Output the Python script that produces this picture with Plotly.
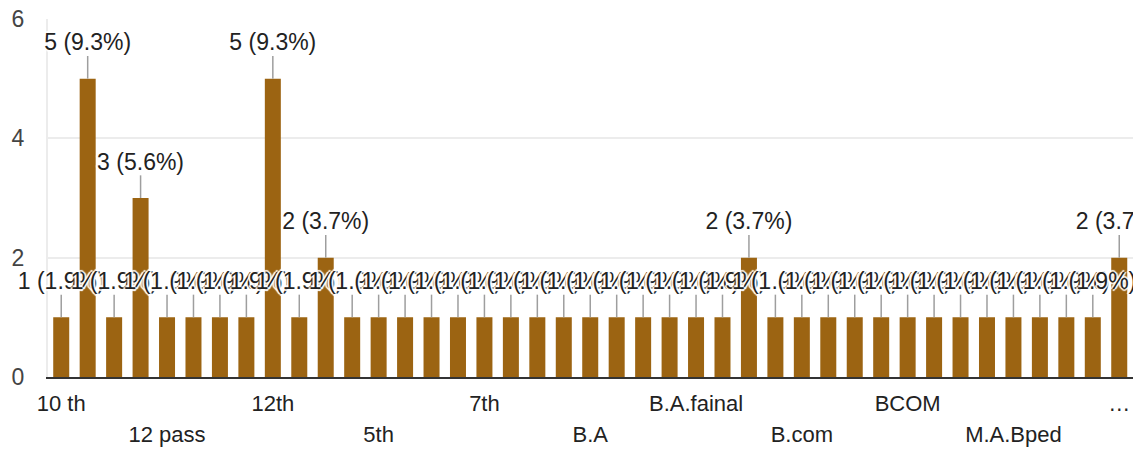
import plotly.graph_objects as go

# answers (sorted the way the form lists them)
categories = [
    "10 th", "10th", "11th", "12", "12 pass", "12 th", "12 th pass", "12pass",
    "12th", "12th pass", "2nd year", "3rd year", "5th", "5th class", "6th",
    "7 th", "7th", "8th", "9th", "B. A", "B.A", "B.A 1st year", "B.A 2nd year",
    "B.A final", "B.A.fainal", "B.Ed", "B.Sc", "B.Sc.", "B.com", "BA",
    "BA final", "BBA", "BCOM", "BSc", "Graduation", "M.A", "M.A.Bped",
    "M.Com", "MA", "MSc", "Post graduation",
]
counts = [
    1, 5, 1, 3, 1, 1, 1, 1, 5, 1, 2, 1, 1, 1, 1, 1, 1, 1, 1, 1, 1,
    1, 1, 1, 1, 1, 2, 1, 1, 1, 1, 1, 1, 1, 1, 1, 1, 1, 1, 1, 2,
]

# only every 4th answer gets a tick label, alternating between two rows
row1_ticks = ["10 th", "12th", "7th", "B.A.fainal", "BCOM", "Post graduation"]
row1_text = ["10 th", "12th", "7th", "B.A.fainal", "BCOM", "…"]
row2_ticks = ["12 pass", "5th", "B.A", "B.com", "M.A.Bped"]
row2_text = ["12 pass", "5th", "B.A", "B.com", "M.A.Bped"]

total = sum(counts)
labels = [f"{c} ({c / total * 100:.1f}%)" for c in counts]

BAR = "#9c6412"
FONT = "Liberation Sans, Arial, sans-serif"
STEM = 0.38  # leader line length, in data units

# geometry (the page body adds an 8px margin around the figure)
W, H = 1133, 444
M_L, M_R, M_T, M_B = 0, 8, 11, 75
PLOT_LEFT = 40                      # where the bar area starts, in px
area_w = W - M_L - M_R
x_range = [-0.5, 40.52]
units_per_px = (x_range[1] - x_range[0]) / (area_w - PLOT_LEFT)
# label layer spans the full width so left labels are not clipped
label_range = [x_range[0] - PLOT_LEFT * units_per_px, x_range[1]]

fig = go.Figure()

fig.add_trace(go.Bar(
    x=categories,
    y=counts,
    marker=dict(color=BAR, line=dict(width=0)),
    error_y=dict(
        type="data", symmetric=False,
        array=[STEM] * len(counts), arrayminus=[0] * len(counts),
        width=0, thickness=1.5, color="#9e9e9e",
    ),
    showlegend=False,
    hoverinfo="skip",
))

# invisible trace so the second tick row axis is drawn
fig.add_trace(go.Scatter(
    x=[categories[0]], y=[0], xaxis="x2", mode="markers",
    marker=dict(opacity=0), showlegend=False, hoverinfo="skip",
))

# value labels, on their own layer above the bars
fig.add_trace(go.Scatter(
    x=categories,
    y=[c + STEM for c in counts],
    xaxis="x3",
    yaxis="y3",
    mode="text",
    text=labels,
    textposition="top center",
    textfont=dict(
        family=FONT, size=23, color="#222222",
        shadow="2px 0 1px #fff, -2px 0 1px #fff, 0 2px 1px #fff, 0 -2px 1px #fff",
    ),
    cliponaxis=True,
    showlegend=False,
    hoverinfo="skip",
))

fig.update_layout(
    width=W,
    height=H,
    margin=dict(l=M_L, r=M_R, t=M_T, b=M_B, autoexpand=False),
    paper_bgcolor="white",
    plot_bgcolor="rgba(0,0,0,0)",
    bargap=0.395,
    font=dict(family=FONT),
    xaxis=dict(
        type="category",
        categoryorder="array",
        categoryarray=categories,
        domain=[PLOT_LEFT / area_w, 1],
        range=x_range,
        tickvals=row1_ticks,
        ticktext=row1_text,
        tickfont=dict(size=22, color="#222222"),
        ticks="",
        ticklabelstandoff=6,
        automargin=False,
        showgrid=False,
        showline=True,
        linecolor="#333333",
        linewidth=2,
        zeroline=False,
    ),
    xaxis2=dict(
        type="category",
        categoryorder="array",
        categoryarray=categories,
        range=x_range,
        overlaying="x",
        side="bottom",
        anchor="y",
        tickvals=row2_ticks,
        ticktext=row2_text,
        tickfont=dict(size=22, color="#222222"),
        ticks="",
        ticklabelstandoff=42,
        automargin=False,
        showgrid=False,
        showline=False,
        zeroline=False,
    ),
    xaxis3=dict(
        type="category",
        categoryorder="array",
        categoryarray=categories,
        domain=[0, 1],
        range=label_range,
        anchor="y3",
        visible=False,
    ),
    yaxis=dict(
        range=[0, 6],
        tickvals=[0, 2, 4, 6],
        tickfont=dict(size=23, color="#444444"),
        ticks="",
        ticklabelstandoff=17,
        ticklabeloverflow="allow",
        automargin=False,
        showgrid=True,
        gridcolor="#ececec",
        gridwidth=2,
        showline=True,
        linecolor="#ececec",
        linewidth=2,
        mirror=True,
        zeroline=False,
    ),
    yaxis3=dict(
        range=[0, 6],
        domain=[0, 1],
        anchor="x3",
        visible=False,
    ),
)

fig.write_html("out.html")
